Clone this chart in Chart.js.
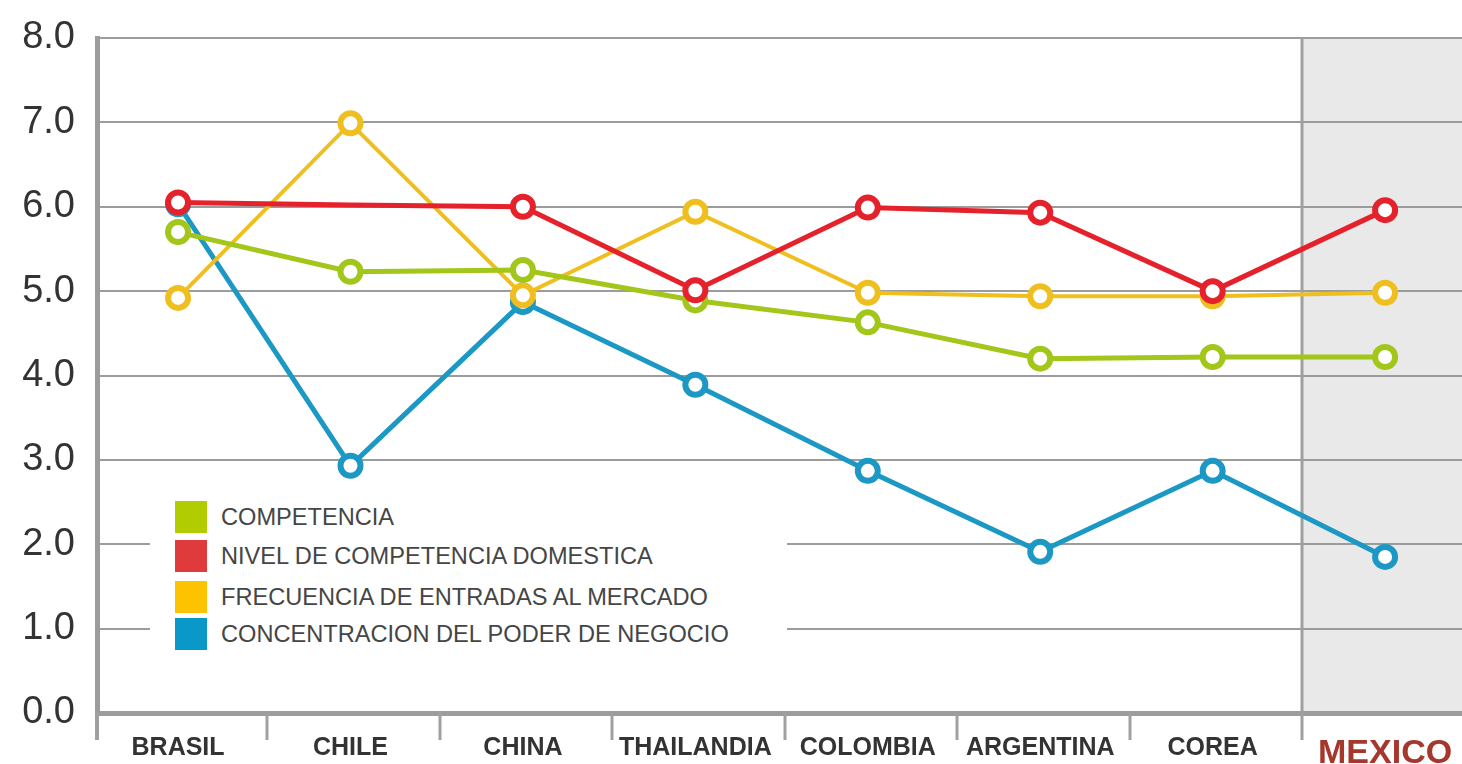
<!DOCTYPE html>
<html><head><meta charset="utf-8">
<script src="https://cdn.jsdelivr.net/npm/chart.js@4.4.1/dist/chart.umd.min.js"></script>
<style>
html,body{margin:0;padding:0;background:#fff;overflow:hidden}
#wrap{position:relative;width:1462px;height:764px}
#legend{position:absolute;left:150px;top:494px;width:637px;height:162px;background:#fff;font-family:'Liberation Sans',Arial,sans-serif;font-size:23.6px;color:#454545}
.row{position:absolute;left:25px;height:32px;display:flex;align-items:center;white-space:nowrap}
.sw{width:32px;height:32px;margin-right:14px}
</style></head>
<body><div id="wrap"><canvas id="c" width="1462" height="764"></canvas><div id="legend"></div></div>
<script>
const categories = ['BRASIL','CHILE','CHINA','THAILANDIA','COLOMBIA','ARGENTINA','COREA','MEXICO'];
const seriesLabels = ['COMPETENCIA','NIVEL DE COMPETENCIA DOMESTICA','FRECUENCIA DE ENTRADAS AL MERCADO','CONCENTRACION DEL PODER DE NEGOCIO'];
const competencia   = [5.70, 5.23, 5.25, 4.89, 4.63, 4.20, 4.22, 4.22];
const nivelDomestica = [6.05, 6.02, 6.00, 5.01, 5.99, 5.93, 5.00, 5.96];
const frecuencia    = [4.92, 6.99, 4.95, 5.94, 4.98, 4.94, 4.94, 4.98];
const concentracion = [6.03, 2.93, 4.87, 3.89, 2.87, 1.91, 2.87, 1.85];
const yTicks = [0,1,2,3,4,5,6,7,8];

const lineColors = ['#a2c61a','#e5222b','#efbf1f','#1b98c4'];
const swatchColors = ['#b1cc00','#df3b3d','#fdc300','#0a98c9'];
const FONT = "'Liberation Sans', Arial, sans-serif";

// legend (HTML)
const leg = document.getElementById('legend');
const rowTops = [7,46,87,124];
seriesLabels.forEach((l,i)=>{
  const r = document.createElement('div'); r.className='row'; r.style.top = rowTops[i]+'px';
  const s = document.createElement('div'); s.className='sw'; s.style.background = swatchColors[i];
  const t = document.createElement('span'); t.textContent = l;
  r.appendChild(s); r.appendChild(t); leg.appendChild(r);
});

const sepShift = 0.018;
const bgPlugin = {
  id:'bgcols',
  beforeDraw(chart){
    const {ctx, chartArea:a, scales:{x}} = chart;
    const xs = x.getPixelForValue(categories.length-1.5+sepShift);
    ctx.save(); ctx.fillStyle='#e9e9e9';
    ctx.fillRect(xs, a.top, a.right-xs, a.bottom-a.top);
    ctx.restore();
  },
  beforeDatasetsDraw(chart){
    const {ctx, chartArea:a, scales:{x}} = chart;
    ctx.save(); ctx.strokeStyle='#a0a0a0'; ctx.lineWidth=3;
    const n = categories.length;
    for(let i=0;i<n-1;i++){
      const px = Math.round(x.getPixelForValue(i+0.5+sepShift));
      ctx.beginPath();
      ctx.moveTo(px, i===n-2 ? a.top : a.bottom);
      ctx.lineTo(px, a.bottom+27);
      ctx.stroke();
    }
    ctx.lineWidth=4;
    ctx.beginPath(); ctx.moveTo(a.left, a.bottom); ctx.lineTo(a.left, a.bottom+27); ctx.stroke();
    ctx.restore();
  }
};

function ds(label, values, color, order, width, radii){
  return {
    label, data: values.map((v,i)=>({x:i,y:v})),
    borderColor: color, pointBorderColor: color, pointBackgroundColor:'#ffffff',
    borderWidth: width, pointRadius: radii || 10, pointBorderWidth: 6, pointHoverRadius: radii || 10,
    tension: 0, order
  };
}

new Chart(document.getElementById('c').getContext('2d'), {
  type:'line',
  data:{datasets:[
    ds(seriesLabels[0], competencia, lineColors[0], 1, 5),
    ds(seriesLabels[1], nivelDomestica, lineColors[1], 0, 5, nivelDomestica.map((v,i)=> i===1 ? 0 : 10)),
    ds(seriesLabels[2], frecuencia, lineColors[2], 2, 4),
    ds(seriesLabels[3], concentracion, lineColors[3], 3, 5)
  ]},
  options:{
    responsive:false, animation:false,
    layout:{autoPadding:false, padding:{top:38,right:0,left:0,bottom:0}},
    plugins:{legend:{display:false}, tooltip:{enabled:false}},
    scales:{
      x:{
        type:'linear', min:-0.47, max:7.446,
        afterBuildTicks: s => { s.ticks = categories.map((c,i)=>({value:i})); },
        afterFit: s => { s.height = 51; s.paddingLeft = 0; s.paddingRight = 0; },
        grid:{display:false, drawTicks:false},
        border:{display:true, color:'#9c9c9c', width:5},
        ticks:{
          autoSkip:false, maxRotation:0, padding:20,
          callback: v => categories[v],
          font: c => c.index === categories.length-1 ? {family:FONT, size:34, weight:'bold'} : {family:FONT, size:25, weight:'bold'},
          color: c => c.index === categories.length-1 ? '#a5372d' : '#333333'
        }
      },
      y:{
        min:0, max:8,
        afterBuildTicks: s => { s.ticks = yTicks.map(v=>({value:v})); },
        afterFit: s => { s.width = 97; s.paddingTop = 0; s.paddingBottom = 0; },
        ticks:{callback: v => Number(v).toFixed(1), font:{family:FONT, size:38}, color:'#333333', padding:22},
        grid:{color:'#9c9c9c', lineWidth:2, drawTicks:false},
        border:{display:true, color:'#9c9c9c', width:5}
      }
    }
  },
  plugins:[bgPlugin]
});
</script>
</body></html>
